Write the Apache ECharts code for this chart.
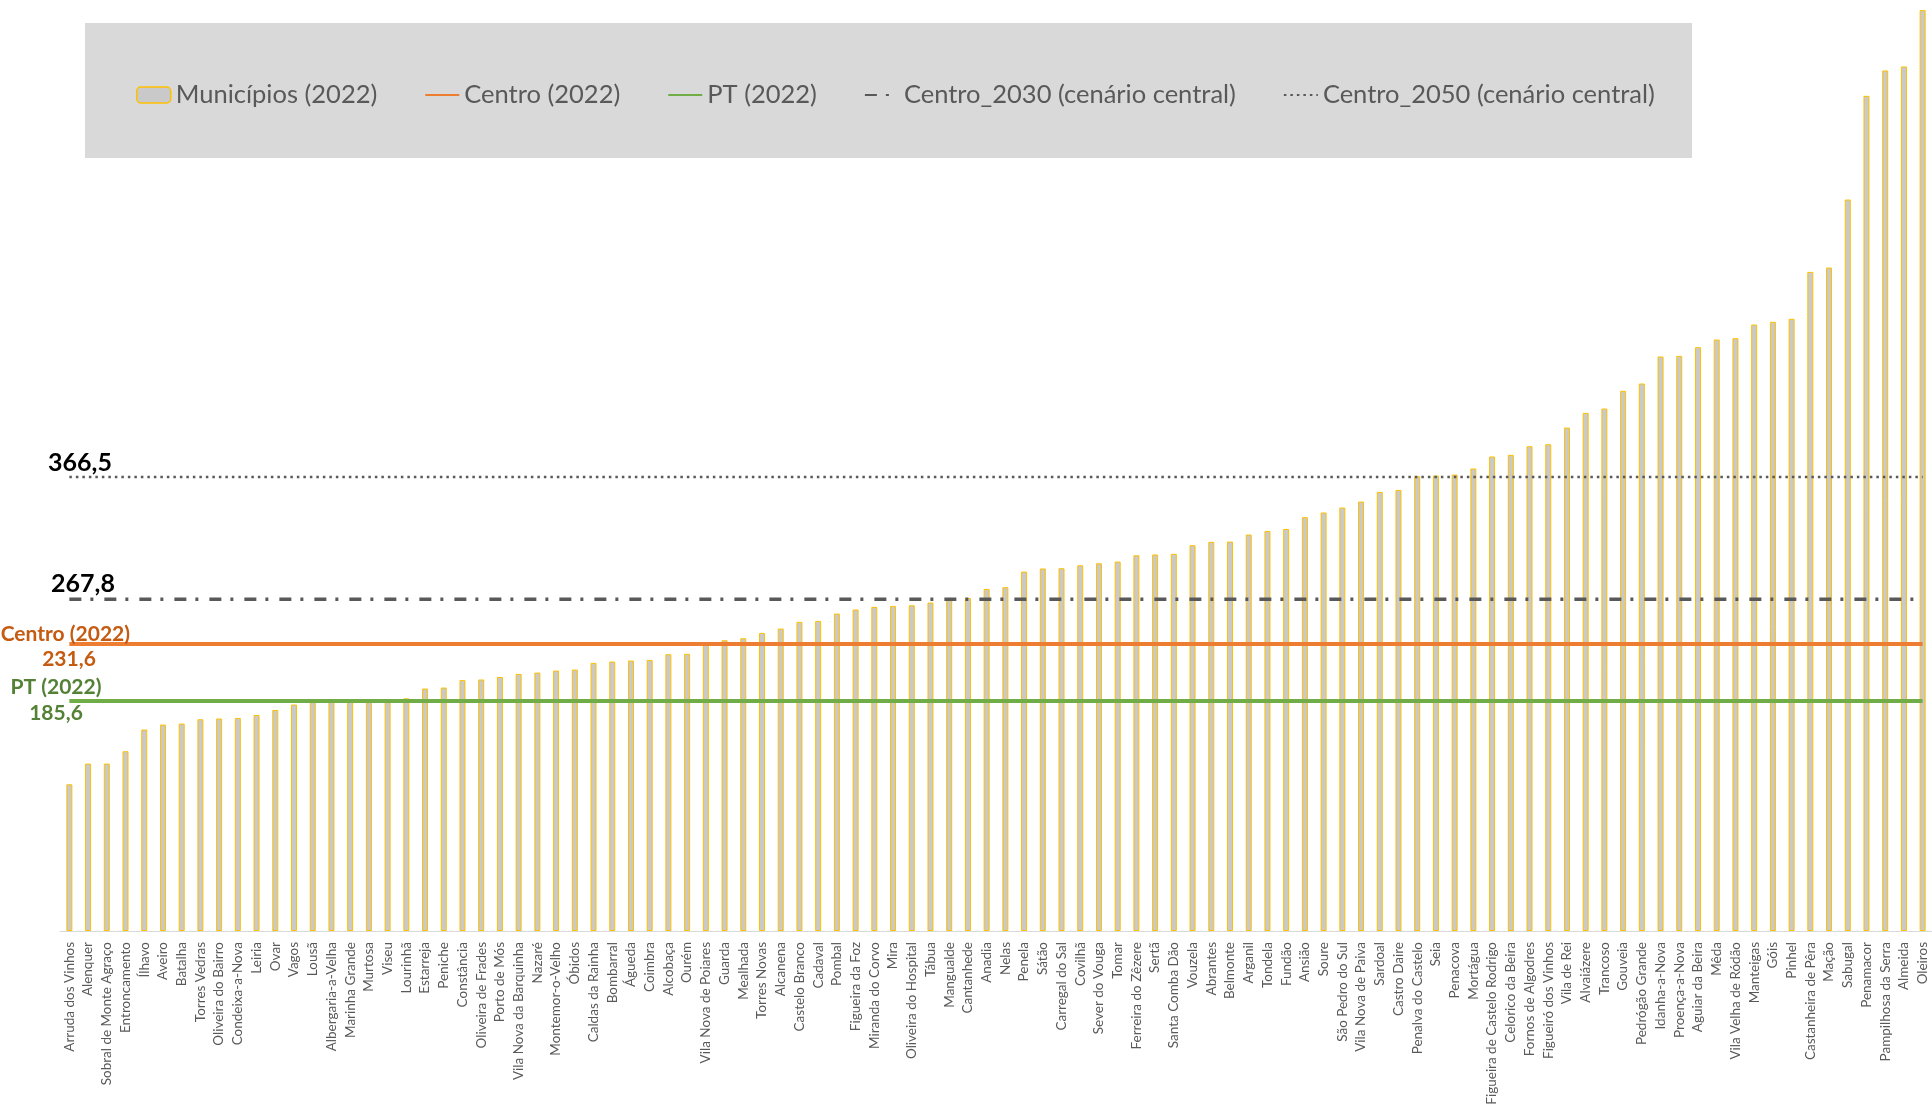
<!DOCTYPE html>
<html>
<head>
  <meta charset="utf-8">
  <script src="https://cdn.jsdelivr.net/npm/echarts@6/dist/echarts.min.js"></script>
  <style>
    html, body { margin: 0; padding: 0; background: #fff; }
  </style>
</head>
<body>
<div id="main" style="width: 1932px; height: 1111px"></div>
<script>
  const categories = [
    "Arruda dos Vinhos", "Alenquer", "Sobral de Monte Agraço", "Entroncamento", "Ílhavo",
    "Aveiro", "Batalha", "Torres Vedras", "Oliveira do Bairro", "Condeixa-a-Nova",
    "Leiria", "Ovar", "Vagos", "Lousã", "Albergaria-a-Velha",
    "Marinha Grande", "Murtosa", "Viseu", "Lourinhã", "Estarreja",
    "Peniche", "Constância", "Oliveira de Frades", "Porto de Mós", "Vila Nova da Barquinha",
    "Nazaré", "Montemor-o-Velho", "Óbidos", "Caldas da Rainha", "Bombarral",
    "Águeda", "Coimbra", "Alcobaça", "Ourém", "Vila Nova de Poiares",
    "Guarda", "Mealhada", "Torres Novas", "Alcanena", "Castelo Branco",
    "Cadaval", "Pombal", "Figueira da Foz", "Miranda do Corvo", "Mira",
    "Oliveira do Hospital", "Tábua", "Mangualde", "Cantanhede", "Anadia",
    "Nelas", "Penela", "Sátão", "Carregal do Sal", "Covilhã",
    "Sever do Vouga", "Tomar", "Ferreira do Zêzere", "Sertã", "Santa Comba Dão",
    "Vouzela", "Abrantes", "Belmonte", "Arganil", "Tondela",
    "Fundão", "Ansião", "Soure", "São Pedro do Sul", "Vila Nova de Paiva",
    "Sardoal", "Castro Daire", "Penalva do Castelo", "Seia", "Penacova",
    "Mortágua", "Figueira de Castelo Rodrigo", "Celorico da Beira", "Fornos de Algodres", "Figueiró dos Vinhos",
    "Vila de Rei", "Alvaiázere", "Trancoso", "Gouveia", "Pedrógão Grande",
    "Idanha-a-Nova", "Proença-a-Nova", "Aguiar da Beira", "Mêda", "Vila Velha de Ródão",
    "Manteigas", "Góis", "Pinhel", "Castanheira de Pêra", "Mação",
    "Sabugal", "Penamacor", "Pampilhosa da Serra", "Almeida", "Oleiros"
  ];

  const municipios = [
    118.4, 135.1, 135.1, 145.1, 162.6, 166.6, 167.4, 170.9, 171.5, 172.0,
    174.4, 178.4, 182.8, 185.3, 186.0, 186.3, 186.6, 187.0, 187.8, 195.7,
    196.5, 202.5, 203.0, 205.0, 207.5, 208.6, 210.2, 211.0, 216.4, 217.5,
    218.3, 218.8, 223.4, 223.7, 231.0, 234.7, 236.3, 240.6, 244.1, 249.5,
    250.3, 256.2, 259.5, 261.6, 262.4, 262.9, 265.1, 268.0, 268.8, 276.1,
    277.5, 290.1, 292.6, 292.8, 295.2, 296.8, 298.2, 303.3, 303.9, 304.4,
    311.4, 314.1, 314.3, 320.0, 322.9, 324.5, 334.0, 337.8, 341.8, 346.6,
    354.4, 356.0, 367.1, 367.6, 368.4, 373.3, 383.0, 384.3, 391.3, 392.9,
    406.3, 418.2, 421.7, 436.0, 441.9, 463.7, 464.2, 471.2, 477.4, 478.5,
    489.5, 491.7, 494.1, 532.0, 535.5, 590.4, 674.1, 694.6, 697.8, 743.3
  ];

  const centro2022 = 231.6;
  const pt2022 = 185.6;
  const centro2030 = 267.8;
  const centro2050 = 366.5;

  const fmt = v => v.toFixed(1).replace('.', ',');
  const first = categories[0];
  const last = categories[categories.length - 1];
  const flat = v => [[first, v], [last, v]];

  const FONT = 'Lato, "Noto Sans", sans-serif';
  const myChart = echarts.init(document.getElementById('main'));

  // hide the little circle ECharts puts on line legend icons
  const noDot = { color: 'rgba(0,0,0,0)', borderWidth: 0, opacity: 0 };

  myChart.setOption({
    animation: false,
    textStyle: { fontFamily: FONT },
    grid: { left: 60, right: 0, top: 8, bottom: 180 },
    legend: {
      left: 131,
      top: 77,
      itemWidth: 34,
      itemHeight: 16,
      itemGap: 47,
      textStyle: { fontSize: 25.5, color: '#595959', fontFamily: FONT },
      data: [
        { name: 'Municípios (2022)', itemStyle: { color: '#c9c9c9', borderColor: '#ffc000', borderWidth: 1.5 } },
        { name: 'Centro (2022)', itemStyle: noDot },
        { name: 'PT (2022)', itemStyle: noDot },
        { name: 'Centro_2030 (cenário central)', itemStyle: noDot },
        { name: 'Centro_2050 (cenário central)', itemStyle: noDot }
      ]
    },
    xAxis: {
      type: 'category',
      data: categories,
      axisTick: { show: false },
      axisLine: { lineStyle: { color: '#d9d9d9', width: 1 } },
      axisLabel: {
        interval: 0,
        rotate: 90,
        margin: 11,
        fontSize: 13.5,
        color: '#595959',
        fontFamily: FONT
      }
    },
    yAxis: {
      type: 'value',
      min: 0,
      max: 745,
      show: false,
      splitLine: { show: false }
    },
    series: [
      {
        name: 'Municípios (2022)',
        type: 'bar',
        data: municipios,
        barWidth: 6,
        itemStyle: { color: '#c9c9c9', borderColor: '#ffc000', borderWidth: 1 }
      },
      {
        name: 'Centro (2022)',
        type: 'line',
        data: flat(centro2022),
        symbol: 'none',
        z: 4,
        lineStyle: { color: '#ed7d31', width: 4 },
        itemStyle: { color: '#ed7d31' }
      },
      {
        name: 'PT (2022)',
        type: 'line',
        data: flat(pt2022),
        symbol: 'none',
        z: 4,
        lineStyle: { color: '#70ad47', width: 4 },
        itemStyle: { color: '#70ad47' }
      },
      {
        name: 'Centro_2030 (cenário central)',
        type: 'line',
        data: flat(centro2030),
        symbol: 'none',
        z: 4,
        lineStyle: { color: '#595959', width: 3.5, type: [12, 9, 3, 11] },
        itemStyle: { color: '#595959' }
      },
      {
        name: 'Centro_2050 (cenário central)',
        type: 'line',
        data: flat(centro2050),
        symbol: 'none',
        z: 4,
        lineStyle: { color: '#595959', width: 2.5, type: [2.5, 4] },
        itemStyle: { color: '#595959' }
      }
    ]
  });

  // value labels on the left, placed from the y scale
  const py = v => myChart.convertToPixel({ yAxisIndex: 0 }, v);
  const label = (text, x, y, align, size, color) => ({
    type: 'text', x: x, y: y, z: 10,
    style: {
      text: text, fill: color, textAlign: align, textVerticalAlign: 'middle',
      font: 'bold ' + size + 'px ' + FONT
    }
  });

  myChart.setOption({
    graphic: [
      {
        type: 'rect', z: -1, silent: true,
        shape: { x: 85, y: 23, width: 1607, height: 135 },
        style: { fill: '#d9d9d9' }
      },
      label(fmt(centro2050), 80, py(centro2050) - 14, 'center', 25, '#000'),
      label(fmt(centro2030), 83, py(centro2030) - 15, 'center', 25, '#000'),
      label('Centro (2022)', 130, py(centro2022) - 10, 'right', 21, '#c55a11'),
      label(fmt(centro2022), 69, py(centro2022) + 15, 'center', 21, '#c55a11'),
      label('PT (2022)', 56, py(pt2022) - 14, 'center', 21, '#538135'),
      label(fmt(pt2022), 56, py(pt2022) + 12, 'center', 21, '#538135')
    ]
  });
</script>
</body>
</html>
